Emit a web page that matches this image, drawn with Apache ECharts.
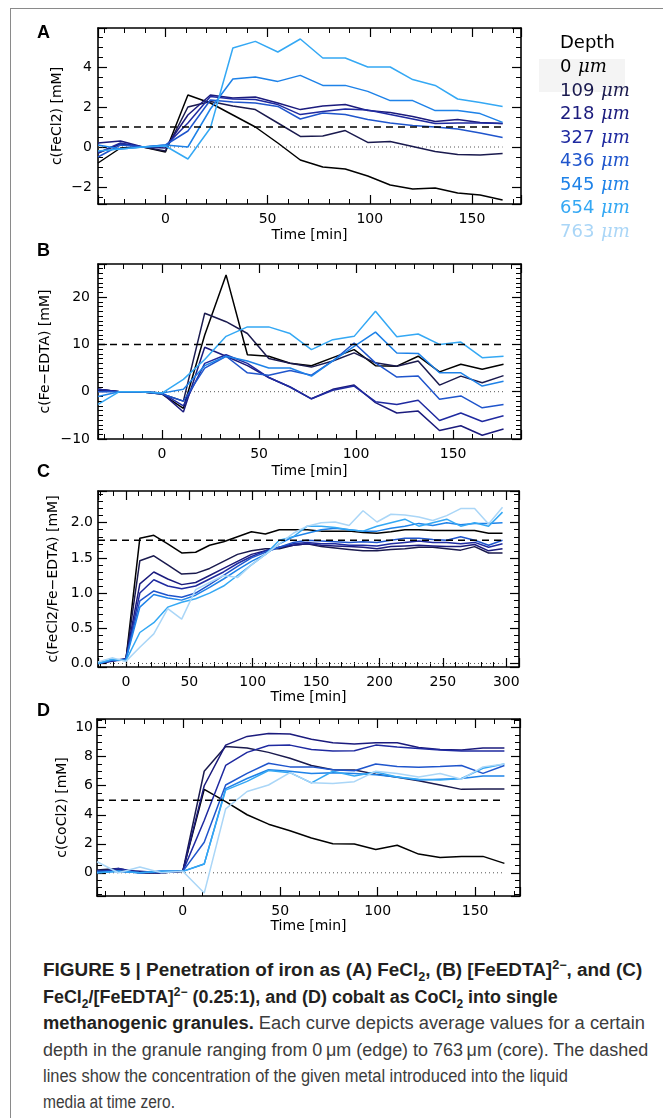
<!DOCTYPE html>
<html>
<head>
<meta charset="utf-8">
<script src="https://cdn.jsdelivr.net/npm/echarts@6/dist/echarts.min.js"></script>
<style>
  html, body { margin: 0; padding: 0; background: #fff; }
  #frame { position: absolute; left: 10px; top: 8px; width: 700px; height: 1200px;
           border-left: 1px solid #8a8a8a; border-top: 1px solid #8a8a8a; }
  #chart { position: absolute; left: 0; top: 0; width: 663px; height: 945px; }
  .cap { position: absolute; left: 43px; white-space: nowrap; font-family: "Liberation Sans", Arial, sans-serif;
         font-size: 18px; line-height: 20px; color: #3c3c3c; transform-origin: 0 50%; }
  .cap b { color: #231f20; }
  .cap sub, .cap sup { font-size: 12px; line-height: 0; }
</style>
</head>
<body>
<div id="frame"></div>
<div id="chart"></div>
<div class="cap" data-w="599" style="top:960px"><b>FIGURE 5 | Penetration of iron as (A) FeCl<sub>2</sub>, (B) [FeEDTA]<sup>2−</sup>, and (C)</b></div>
<div class="cap" data-w="515" style="top:987px"><b>FeCl<sub>2</sub>/[FeEDTA]<sup>2−</sup> (0.25:1), and (D) cobalt as CoCl<sub>2</sub> into single</b></div>
<div class="cap" data-w="602" style="top:1013px"><b>methanogenic granules.</b> Each curve depicts average values for a certain</div>
<div class="cap" data-w="605" style="top:1040px">depth in the granule ranging from 0&thinsp;μm (edge) to 763&thinsp;μm (core). The dashed</div>
<div class="cap" data-w="525" style="top:1066px">lines show the concentration of the given metal introduced into the liquid</div>
<div class="cap" data-w="132" style="top:1092px">media at time zero.</div>
<script>
// depth in the granule, edge -> core
const depths = ['0', '109', '218', '327', '436', '545', '654', '763'];
const depthColors = ['#000000', '#1a1a4e', '#1b1b7d', '#1f2aa0', '#1f55cc', '#1e82e8', '#34a8f4', '#aad6f7'];

// A: FeCl2 (rows = depths 0..654 um)
const timeA = [-33, -22, -11, 0, 11, 22, 33, 44, 55, 66, 77, 88, 99, 110, 121, 132, 143, 154, 165];
const fecl2 = [
  [-0.8, -0.05, 0.0, -0.25, 2.6, 2.2, 1.6, 1.0, 0.2, -0.65, -1.0, -1.1, -1.45, -1.9, -2.1, -2.05, -2.3, -2.4, -2.65],
  [-0.3, 0.15, 0.0, -0.2, 2.0, 2.28, 2.05, 1.87, 1.2, 0.53, 0.55, 0.82, 0.23, 0.28, 0.03, -0.22, -0.38, -0.4, -0.33],
  [0.2, 0.3, 0.0, -0.05, 1.6, 2.6, 2.45, 2.5, 2.2, 1.87, 2.05, 2.12, 1.83, 1.73, 1.53, 1.28, 1.37, 1.23, 1.18],
  [-0.3, 0.2, 0.0, 0.05, 1.2, 2.52, 2.4, 2.37, 2.12, 1.62, 1.78, 1.9, 1.85, 1.62, 1.4, 1.17, 1.2, 1.2, 1.18],
  [-0.5, 0.1, 0.0, 0.1, 0.8, 2.35, 2.25, 2.2, 2.03, 1.4, 1.7, 1.62, 1.37, 1.2, 1.07, 1.0, 0.9, 0.7, 0.48],
  [0.1, -0.1, 0.0, 0.1, 0.0, 1.9, 3.4, 3.5, 3.28, 3.58, 3.08, 3.08, 2.78, 2.32, 2.32, 1.82, 1.82, 1.67, 1.23],
  [-0.2, -0.1, 0.0, 0.05, -0.6, 0.95, 4.95, 5.28, 4.75, 5.4, 4.45, 4.45, 4.0, 4.0, 3.37, 3.08, 2.4, 2.23, 2.03]
];

// B: Fe-EDTA
const timeB = [-33, -22, -11, 0, 11, 22, 33, 44, 55, 66, 77, 88, 99, 110, 121, 132, 143, 154, 165, 176];
const feEdta = [
  [0.5, 0.0, 0.0, -0.5, -3.5, 12.0, 24.7, 7.8, 7.5, 6.0, 5.5, 7.2, 8.9, 5.5, 5.4, 7.5, 4.2, 5.8, 4.75, 5.8],
  [0.3, 0.0, 0.0, -0.5, -2.0, 16.6, 14.8, 12.3, 7.0, 6.0, 5.2, 6.5, 8.2, 6.1, 5.4, 6.5, 1.4, 3.3, 1.9, 3.4],
  [0.5, 0.0, 0.0, -0.3, -4.3, 9.4, 7.5, 5.5, 3.0, 1.0, -1.5, 0.5, 1.4, -2.3, -4.5, -4.1, -8.2, -7.2, -9.2, -7.9],
  [0.5, 0.0, 0.0, -0.3, -3.0, 6.0, 7.8, 6.0, 3.0, 1.0, -1.5, 0.3, 1.2, -2.1, -2.7, -1.8, -6.1, -4.5, -6.3, -5.1],
  [0.0, 0.0, 0.0, -0.5, -2.0, 5.0, 7.5, 4.0, 3.5, 4.5, 3.5, 6.5, 10.3, 6.1, 3.1, 3.3, -1.6, -0.9, -3.4, -2.7],
  [-1.0, 0.0, 0.0, -0.3, 0.5, 5.5, 7.5, 6.5, 5.0, 5.0, 3.3, 6.5, 9.6, 12.6, 8.2, 8.1, 4.0, 4.0, 1.2, 2.2],
  [-2.7, 0.0, 0.0, -0.3, 2.6, 6.8, 11.7, 13.7, 13.7, 12.3, 8.9, 11.0, 11.7, 17.0, 11.6, 12.2, 10.0, 10.5, 7.2, 7.5]
];

// C: FeCl2/Fe-EDTA
const timeC = [-22, -11, 0, 11, 22, 33, 44, 55, 66, 77, 88, 99, 110, 121, 132, 143, 154, 165, 176, 187, 198, 209, 220, 231, 242, 253, 264, 275, 286, 297];
const mixed = [
  [0.0, 0.05, 0.05, 1.78, 1.82, 1.7, 1.57, 1.58, 1.68, 1.73, 1.8, 1.87, 1.84, 1.9, 1.9, 1.9, 1.88, 1.88, 1.88, 1.86, 1.85, 1.87, 1.9, 1.9, 1.89, 1.89, 1.89, 1.89, 1.85, 1.85],
  [0.0, 0.04, 0.06, 1.46, 1.53, 1.4, 1.27, 1.28, 1.35, 1.45, 1.55, 1.6, 1.63, 1.63, 1.68, 1.7, 1.66, 1.64, 1.62, 1.6, 1.6, 1.62, 1.63, 1.65, 1.65, 1.63, 1.61, 1.66, 1.57, 1.57],
  [0.0, 0.03, 0.07, 1.13, 1.3, 1.2, 1.12, 1.15, 1.25, 1.35, 1.45, 1.55, 1.6, 1.65, 1.68, 1.7, 1.68, 1.67, 1.66, 1.65, 1.63, 1.66, 1.67, 1.68, 1.67, 1.66, 1.66, 1.69, 1.6, 1.63],
  [0.0, 0.04, 0.05, 1.0, 1.19, 1.1, 1.06, 1.1, 1.2, 1.3, 1.42, 1.52, 1.6, 1.65, 1.7, 1.72, 1.7, 1.7, 1.68, 1.68, 1.67, 1.7, 1.72, 1.74, 1.72, 1.72, 1.7, 1.72, 1.65, 1.7],
  [0.0, 0.05, 0.06, 0.89, 1.03, 0.97, 0.94, 1.0, 1.12, 1.25, 1.38, 1.5, 1.58, 1.65, 1.72, 1.75, 1.74, 1.73, 1.72, 1.73, 1.72, 1.75, 1.78, 1.78, 1.76, 1.75, 1.8, 1.75, 1.68, 1.75],
  [0.0, 0.05, 0.05, 0.8, 0.98, 0.93, 0.9, 0.97, 1.08, 1.2, 1.33, 1.45, 1.55, 1.7, 1.8, 1.85, 1.9, 1.92, 1.9, 1.88, 1.88, 1.92, 1.95, 1.99, 1.96, 2.0, 1.97, 1.99, 1.99, 2.0],
  [0.0, 0.06, 0.04, 0.44, 0.58, 0.8, 0.87, 0.92, 1.0, 1.1, 1.25, 1.4, 1.55, 1.75, 1.8, 1.95, 1.95, 1.93, 1.9, 1.88, 1.95, 2.0, 2.05, 1.95, 2.0, 2.05, 1.95, 2.0, 1.95, 2.15],
  [0.02, 0.08, 0.03, 0.23, 0.42, 0.78, 0.63, 1.05, 1.15, 1.25, 1.22, 1.4, 1.55, 1.7, 1.85, 1.95, 2.0, 2.01, 1.96, 2.17, 2.01, 2.12, 2.11, 2.08, 2.03, 2.1, 2.2, 2.2, 1.98, 2.22]
];

// D: CoCl2
const timeD = [-44, -33, -22, -11, 0, 11, 22, 33, 44, 55, 66, 77, 88, 99, 110, 121, 132, 143, 154, 165];
const cocl2 = [
  [0.1, 0.2, 0.0, 0.0, 0.1, 5.75, 4.9, 4.0, 3.35, 2.9, 2.4, 2.0, 1.98, 1.61, 1.9, 1.29, 1.06, 1.13, 1.13, 0.65],
  [0.2, 0.3, 0.0, 0.0, 0.1, 7.0, 8.7, 8.6, 8.3, 7.9, 7.4, 7.1, 7.08, 6.8, 6.58, 6.35, 6.05, 5.75, 5.77, 5.77],
  [0.1, 0.2, 0.1, 0.0, 0.1, 6.0, 8.8, 9.4, 9.6, 9.56, 9.2, 8.96, 8.87, 8.97, 8.97, 8.64, 8.5, 8.46, 8.6, 8.6],
  [0.0, 0.3, 0.0, 0.0, 0.1, 3.6, 7.4, 8.3, 8.77, 8.8, 8.5, 8.4, 8.41, 8.8, 8.67, 8.56, 8.46, 8.4, 8.4, 8.4],
  [0.1, 0.1, 0.0, 0.1, 0.1, 2.1, 6.05, 6.85, 7.55, 7.3, 7.3, 7.1, 7.03, 7.5, 7.33, 7.28, 7.33, 7.4, 6.85, 7.4],
  [0.0, 0.1, 0.0, 0.1, 0.1, 0.6, 5.8, 6.5, 7.1, 7.0, 6.85, 6.9, 6.85, 6.75, 6.6, 6.4, 6.45, 6.5, 6.67, 6.67],
  [0.0, 0.1, 0.0, 0.1, 0.1, 0.6, 5.7, 6.3, 7.05, 6.9, 6.2, 7.0, 6.67, 6.95, 6.6, 6.45, 6.4, 6.5, 7.2, 7.5],
  [0.76, 0.0, 0.4, 0.0, 0.1, -1.4, 4.4, 5.6, 6.05, 6.9, 6.2, 6.15, 6.28, 7.0, 6.85, 6.6, 6.85, 6.45, 7.3, 7.5]
];

// concentration dosed at time zero (dashed lines)
const dosed = [1, 10, 1.75, 5];

const panels = [
  { label: 'A', t: timeA, v: fecl2, name: 'c(FeCl2) [mM]', x: [-33, 174], y: [-2.85, 5.95], ys: 2, ym: 4,
    grid: { left: 98, top: 28, width: 423, height: 176 }, yGap: 34, yMargin: 6, xGap: 24, dec: 0, minLabel: false },
  { label: 'B', t: timeB, v: feEdta, name: 'c(Fe\u2212EDTA) [mM]', x: [-33, 185], y: [-10, 27], ys: 10, ym: 10,
    grid: { left: 98, top: 264, width: 423, height: 175 }, yGap: 46, yMargin: 8, xGap: 25, dec: 0, minLabel: true },
  { label: 'C', t: timeC, v: mixed, name: 'c(FeCl2/Fe\u2212EDTA) [mM]', x: [-22, 310], y: [-0.05, 2.45], ys: 0.5, ym: 5,
    grid: { left: 98, top: 491, width: 421, height: 176 }, yGap: 38, yMargin: 5, xGap: 23, dec: 1, minLabel: false },
  { label: 'D', t: timeD, v: cocl2, name: 'c(CoCl2) [mM]', x: [-44, 173], y: [-1.6, 10.6], ys: 2, ym: 4,
    grid: { left: 97, top: 719, width: 423, height: 177 }, yGap: 28, yMargin: 4, xGap: 23, dec: 0, minLabel: false }
];

const letterY = [34, 252, 473, 712];
const font = 'DejaVu Sans';

const chart = echarts.init(document.getElementById('chart'), null, { renderer: 'canvas' });

function axisCommon(i, range, step, minor) {
  return {
    type: 'value', gridIndex: i, min: range[0], max: range[1],
    minInterval: step, maxInterval: step,
    splitLine: { show: false },
    axisLine: { show: true, onZero: false, lineStyle: { color: '#000', width: 1.6 } },
    axisTick: { show: true, inside: true, length: 9, lineStyle: { color: '#000', width: 1.2 } },
    minorTick: { show: true, splitNumber: minor, length: 5, lineStyle: { color: '#000', width: 1 } }
  };
}

const fmt = (dec) => (v) => (v < 0 ? '\u2212' : '') + Math.abs(v).toFixed(dec);

const xAxis = [], yAxis = [], series = [];
panels.forEach((p, i) => {
  xAxis.push(Object.assign(axisCommon(i, p.x, 50, 5), {
    position: 'bottom', name: 'Time [min]', nameLocation: 'middle', nameGap: p.xGap, nameMoveOverlap: false,
    nameTextStyle: { fontFamily: font, fontSize: 14, color: '#000' },
    axisLabel: { fontFamily: font, fontSize: 14, color: '#000', margin: 8, formatter: fmt(0),
                 showMinLabel: false, showMaxLabel: false }
  }));
  xAxis.push(Object.assign(axisCommon(i, p.x, 50, 5), { position: 'top', axisLabel: { show: false } }));
  yAxis.push(Object.assign(axisCommon(i, p.y, p.ys, p.ym), {
    position: 'left', name: p.name, nameLocation: 'middle', nameGap: p.yGap, nameRotate: 90, nameMoveOverlap: false,
    nameTextStyle: { fontFamily: font, fontSize: 14, color: '#000' },
    axisLabel: { fontFamily: font, fontSize: 14, color: '#000', margin: p.yMargin, formatter: fmt(p.dec),
                 showMinLabel: p.minLabel, showMaxLabel: false }
  }));
  yAxis.push(Object.assign(axisCommon(i, p.y, p.ys, p.ym), { position: 'right', axisLabel: { show: false } }));

  const t0 = p.t[0], t1 = p.t[p.t.length - 1];
  series.push({
    type: 'line', xAxisIndex: 2 * i, yAxisIndex: 2 * i, data: [[t0, 0], [t1, 0]],
    symbol: 'none', lineStyle: { color: '#555', width: 1, type: [1, 3] }, silent: true
  });
  p.v.forEach((row, d) => {
    series.push({
      type: 'line', name: depths[d], xAxisIndex: 2 * i, yAxisIndex: 2 * i,
      data: p.t.map((t, k) => [t, row[k]]),
      symbol: 'none', lineStyle: { color: depthColors[d], width: 1.5 }, silent: true
    });
  });
  series.push({
    type: 'line', xAxisIndex: 2 * i, yAxisIndex: 2 * i, data: [[t0, dosed[i]], [t1, dosed[i]]],
    symbol: 'none', lineStyle: { color: '#000', width: 1.5, type: [7, 5] }, silent: true
  });
});

const graphic = [];
panels.forEach((p, i) => {
  graphic.push({ type: 'text', left: 37, top: letterY[i] - 10,
    style: { text: p.label, font: 'bold 18px "Liberation Sans", Arial, sans-serif', fill: '#000' } });
});
graphic.push({ type: 'rect', shape: { x: 539, y: 59, width: 86, height: 33 }, style: { fill: '#f4f4f4' }, z: -1 });
graphic.push({ type: 'text', x: 560, y: 43,
  style: { text: 'Depth', font: '18px "DejaVu Sans"', fill: '#000', verticalAlign: 'middle' } });
depths.forEach((d, k) => {
  graphic.push({ type: 'text', x: 560, y: 67.5 + 23.5 * k,
    style: {
      text: '{n|' + d + '}  {u|\u03bcm}', verticalAlign: 'middle',
      rich: {
        n: { fontFamily: 'DejaVu Sans', fontSize: 18, fill: depthColors[k] },
        u: { fontFamily: 'DejaVu Serif', fontStyle: 'italic', fontSize: 18, fill: depthColors[k] }
      }
    } });
});

chart.setOption({
  animation: false,
  grid: panels.map(p => p.grid),
  xAxis: xAxis,
  yAxis: yAxis,
  series: series,
  graphic: graphic
});

// squeeze caption lines to the condensed width of the original typeface
document.querySelectorAll('.cap').forEach(el => {
  const w = el.getBoundingClientRect().width;
  el.style.transform = 'scaleX(' + (Number(el.dataset.w) / w).toFixed(3) + ')';
});
</script>
</body>
</html>
